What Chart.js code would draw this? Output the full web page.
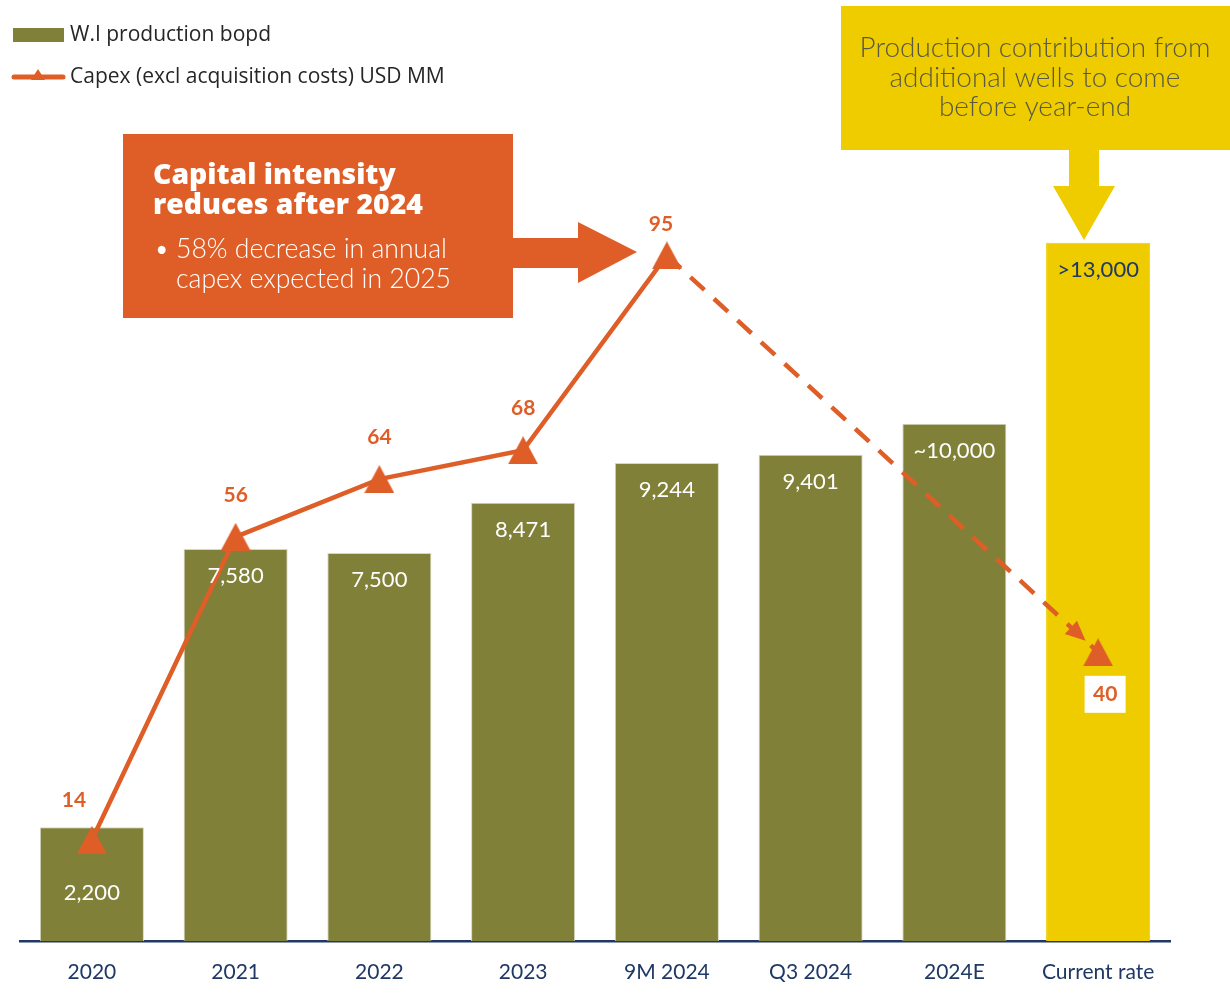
<!DOCTYPE html>
<html><head><meta charset="utf-8">
<script src="https://cdn.jsdelivr.net/npm/chart.js@4/dist/chart.umd.min.js"></script>
<style>html,body{margin:0;padding:0;background:#fff}</style>
</head><body>
<canvas id="c" width="1230" height="994"></canvas>
<script>
// ---- data ----
const categories = ['2020','2021','2022','2023','9M 2024','Q3 2024','2024E','Current rate'];
const production = [2200,7580,7500,8471,9244,9401,10000,13500];
const productionLabels = ['2,200','7,580','7,500','8,471','9,244','9,401','~10,000','>13,000'];
const capex = [14,56,64,68,95,null,null,40];
const capexLabels = ['14','56','64','68','95','','','40'];
const seriesNames = ['W.I production bopd','Capex (excl acquisition costs) USD MM'];

// ---- styles ----
const OLIVE = '#808038', YELLOW = '#EECC00', ORANGE = '#DF5E27', NAVY = '#1F3864';
const FONT = 'Lato, "Open Sans", sans-serif';
const barLabelOffset = [66,27,27,27,27,27,27,27];
const capexLabelOffset = [[-18,-40],[0,-42],[0,-42],[0,-42],[-6,-31],null,null,[7,42]];

function triangleImage(w, h, color){
  const cv = document.createElement('canvas'); cv.width = w; cv.height = h;
  const g = cv.getContext('2d'); g.fillStyle = color;
  g.beginPath(); g.moveTo(w/2,0); g.lineTo(w,h); g.lineTo(0,h); g.closePath(); g.fill();
  return cv;
}
const tri = triangleImage(30,28,ORANGE);

// choose a font size so that `text` spans `target` px
function fitSize(ctx, text, weight, family, target){
  ctx.font = weight + ' 100px ' + family;
  return 100 * target / ctx.measureText(text).width;
}

const overlay = {
  id:'overlay',
  afterDatasetsDraw(chart){
    const ctx = chart.ctx;
    const barMeta = chart.getDatasetMeta(0), lineMeta = chart.getDatasetMeta(1);
    ctx.save();
    // dashed-segment arrowhead
    const p0 = lineMeta.data[4], p1 = lineMeta.data[7];
    const ang = Math.atan2(p1.y-p0.y, p1.x-p0.x);
    const tipD = 17;
    const tx = p1.x - Math.cos(ang)*tipD, ty = p1.y - Math.sin(ang)*tipD;
    ctx.fillStyle = ORANGE;
    ctx.beginPath();
    ctx.moveTo(tx,ty);
    const L = 20, W = 9;
    const bx = tx - Math.cos(ang)*L, by = ty - Math.sin(ang)*L;
    ctx.lineTo(bx + Math.sin(ang)*W, by - Math.cos(ang)*W);
    ctx.lineTo(bx - Math.sin(ang)*W, by + Math.cos(ang)*W);
    ctx.closePath(); ctx.fill();

    // bar labels
    ctx.textAlign='center'; ctx.textBaseline='middle';
    ctx.font = '22px ' + FONT;
    barMeta.data.forEach((b,i)=>{
      ctx.fillStyle = i === production.length-1 ? NAVY : '#FFFFFF';
      ctx.fillText(productionLabels[i], b.x, b.y + barLabelOffset[i]);
    });
    // capex labels
    ctx.font = 'bold 21px ' + FONT;
    lineMeta.data.forEach((p,i)=>{
      if (capex[i] === null || !capexLabelOffset[i]) return;
      const x = p.x + capexLabelOffset[i][0], y = p.y + capexLabelOffset[i][1];
      if (i === 7){ ctx.fillStyle='#FFFFFF'; ctx.fillRect(x-20.5, y-18.5, 41, 37); }
      ctx.fillStyle = ORANGE;
      ctx.fillText(capexLabels[i], x, y);
    });

    // legend
    ctx.textAlign='left';
    ctx.fillStyle = OLIVE; ctx.fillRect(13,28,51,14);
    ctx.strokeStyle = ORANGE; ctx.lineWidth = 5; ctx.lineCap='round';
    ctx.beginPath(); ctx.moveTo(14,77); ctx.lineTo(63,77); ctx.stroke();
    ctx.drawImage(triangleImage(14,11,ORANGE), 31, 69);
    ctx.fillStyle = '#262626';
    ctx.font = fitSize(ctx, seriesNames[1], '', '"Open Sans"', 375) + 'px "Open Sans"';
    ctx.fillText(seriesNames[0], 70, 35);
    ctx.fillText(seriesNames[1], 70, 77);

    // orange callout
    ctx.fillStyle = ORANGE;
    ctx.fillRect(123,134,390,184);
    ctx.beginPath();
    ctx.moveTo(512,238); ctx.lineTo(578,238); ctx.lineTo(578,222); ctx.lineTo(637,252);
    ctx.lineTo(578,283); ctx.lineTo(578,268); ctx.lineTo(512,268); ctx.closePath(); ctx.fill();
    ctx.fillStyle = '#FFFFFF';
    let s = fitSize(ctx, 'reduces after 2024', '800', '"Open Sans"', 270);
    ctx.font = '800 ' + s + 'px "Open Sans"';
    ctx.fillText('Capital intensity', 153, 176);
    ctx.fillText('reduces after 2024', 153, 206);
    s = fitSize(ctx, '58% decrease in annual', '300', FONT, 271);
    ctx.font = '300 ' + s + 'px ' + FONT;
    ctx.fillText('•', 154, 249);
    ctx.fillText('58% decrease in annual', 176, 249);
    ctx.fillText('capex expected in 2025', 176, 279);

    // yellow callout
    ctx.fillStyle = YELLOW;
    ctx.fillRect(841,6,389,144);
    ctx.beginPath();
    ctx.moveTo(1069,149); ctx.lineTo(1099,149); ctx.lineTo(1099,186); ctx.lineTo(1115,186);
    ctx.lineTo(1084,240); ctx.lineTo(1053,186); ctx.lineTo(1069,186); ctx.closePath(); ctx.fill();
    ctx.fillStyle = '#595944'; ctx.textAlign='center';
    s = fitSize(ctx, 'Production contribution from', '300', FONT, 351);
    ctx.font = '300 ' + s + 'px ' + FONT;
    ctx.fillText('Production contribution from', 1035, 48);
    ctx.fillText('additional wells to come', 1035, 78);
    ctx.fillText('before year-end', 1035, 107);
    ctx.restore();
  }
};

new Chart(document.getElementById('c'), {
  data:{
    labels: categories,
    datasets:[
      { type:'bar', label:seriesNames[0], data:production, yAxisID:'y', order:2,
        backgroundColor: production.map((v,i)=> i===production.length-1 ? YELLOW : OLIVE),
        borderColor: production.map((v,i)=> i===production.length-1 ? YELLOW : '#D6D6C2'),
        borderWidth: {top:1,left:1,right:1,bottom:0},
        categoryPercentage:1, barPercentage:0.724 },
      { type:'line', label:seriesNames[1], data:capex, yAxisID:'y2', order:1,
        borderColor:ORANGE, borderWidth:4.5, spanGaps:true, tension:0,
        pointStyle:tri, pointRadius:14, pointHoverRadius:14,
        segment:{ borderDash: ctx => ctx.p1DataIndex === 7 ? [19,13] : undefined } }
    ]
  },
  options:{
    responsive:false, animation:false,
    layout:{ autoPadding:false, padding:{ left:20, right:60, top:10, bottom:0 } },
    plugins:{ legend:{display:false}, tooltip:{enabled:false} },
    scales:{
      x:{ grid:{display:false, drawTicks:false},
          border:{display:true, color:NAVY, width:2.5},
          ticks:{ color:NAVY, font:{family:FONT, size:21}, padding:19, maxRotation:0, autoSkip:false },
          afterFit: s => { s.height = 53; } },
      y:{ display:false, min:0, max:18000 },
      y2:{ display:false, min:0, max:129 }
    }
  },
  plugins:[overlay]
});
</script>
</body></html>
